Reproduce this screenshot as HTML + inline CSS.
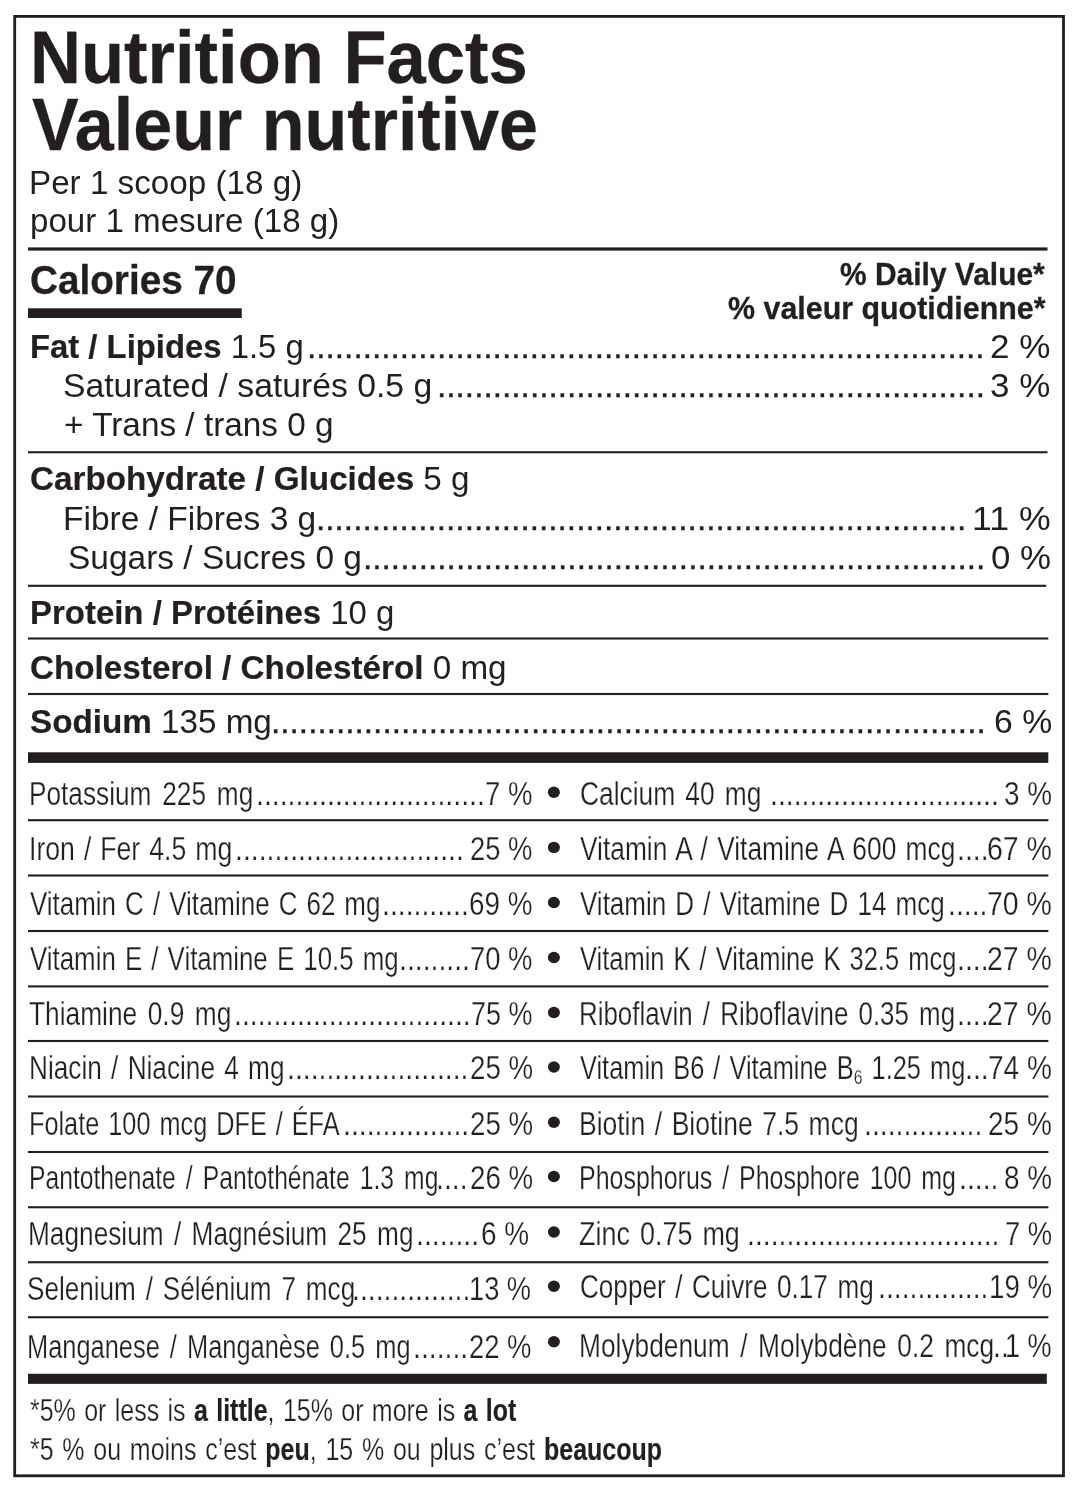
<!DOCTYPE html>
<html lang="en">
<head>
<meta charset="utf-8">
<title>Nutrition Facts / Valeur nutritive</title>
<style>
html,body{margin:0;padding:0;background:#fff;}
body{width:1080px;height:1500px;position:relative;overflow:hidden;
  font-family:"Liberation Sans",sans-serif;color:#231f20;}
#label{position:absolute;left:0;top:0;width:1080px;height:1500px;will-change:transform;}
.t{position:absolute;white-space:nowrap;line-height:1;transform-origin:0 0;font-weight:400;}
.t b{font-weight:700;}
.c{-webkit-text-stroke:0.25px #fff;}
.t b{-webkit-text-stroke:0.2px #231f20;}
.h,.h b{-webkit-text-stroke:0.3px #231f20;}
.d{-webkit-text-stroke:0.4px #231f20;}
svg.rules{position:absolute;left:0;top:0;}
</style>
</head>
<body>
<div id="label">
<svg class="rules" width="1080" height="1500" viewBox="0 0 1080 1500" fill="#231f20">
<rect x="14.7" y="16.4" width="1048.8" height="1459.4" fill="none" stroke="#231f20" stroke-width="2.8"/>
<rect x="28.0" y="247.4" width="1019.5" height="3.2"/>
<rect x="28.0" y="308.3" width="213.75" height="9.7"/>
<rect x="28.0" y="451.20" width="1019.5" height="2.1"/>
<rect x="28.0" y="584.75" width="1018.2" height="2.1"/>
<rect x="28.0" y="637.45" width="1020.3" height="2.1"/>
<rect x="28.0" y="692.95" width="1020.3" height="2.1"/>
<rect x="28.0" y="819.15" width="1020.4" height="2.1"/>
<rect x="28.0" y="874.45" width="1020.4" height="2.1"/>
<rect x="28.0" y="929.95" width="1020.4" height="2.1"/>
<rect x="28.0" y="985.35" width="1020.4" height="2.1"/>
<rect x="28.0" y="1039.95" width="1020.4" height="2.1"/>
<rect x="28.0" y="1095.45" width="1020.4" height="2.1"/>
<rect x="28.0" y="1150.95" width="1020.4" height="2.1"/>
<rect x="28.0" y="1206.20" width="1020.4" height="2.1"/>
<rect x="28.0" y="1261.20" width="1020.4" height="2.1"/>
<rect x="28.0" y="1316.20" width="1020.4" height="2.1"/>
<rect x="28.0" y="752.3" width="1020.3" height="10.6"/>
<rect x="28.0" y="1373.75" width="1018.8" height="10.1"/>
<ellipse cx="553.9" cy="792.3" rx="6.0" ry="5.7"/>
<ellipse cx="553.9" cy="847.4" rx="6.0" ry="5.7"/>
<ellipse cx="553.9" cy="902.5" rx="6.0" ry="5.7"/>
<ellipse cx="553.9" cy="957.5" rx="6.0" ry="5.7"/>
<ellipse cx="553.9" cy="1012.5" rx="6.0" ry="5.7"/>
<ellipse cx="553.9" cy="1067.0" rx="6.0" ry="5.7"/>
<ellipse cx="553.9" cy="1122.2" rx="6.0" ry="5.7"/>
<ellipse cx="553.9" cy="1176.5" rx="6.0" ry="5.7"/>
<ellipse cx="553.9" cy="1232.0" rx="6.0" ry="5.7"/>
<ellipse cx="553.9" cy="1286.25" rx="6.0" ry="5.7"/>
<ellipse cx="553.9" cy="1341.75" rx="6.0" ry="5.7"/>
</svg>
<div class="t h" style="left:30.26px;top:21.00px;font-size:74.49px;transform:scaleX(0.9471)"><b>Nutrition Facts</b></div>
<div class="t h" style="left:31.84px;top:88.00px;font-size:74.49px;transform:scaleX(0.9404)"><b>Valeur nutritive</b></div>
<div class="t" style="left:29.27px;top:165.00px;font-size:34.04px;transform:scaleX(0.9759)">Per 1 scoop (18 g)</div>
<div class="t" style="left:29.81px;top:203.00px;font-size:34.04px;transform:scaleX(0.9731)">pour 1 mesure (18 g)</div>
<div class="t h" style="left:30.15px;top:259.00px;font-size:41.43px;transform:scaleX(0.9341)"><b>Calories 70</b></div>
<div class="t h" style="left:840.47px;top:259.00px;font-size:31.25px;transform:scaleX(0.9584)"><b>% Daily Value*</b></div>
<div class="t h" style="left:728.21px;top:293.00px;font-size:31.25px;transform:scaleX(0.9727)"><b>% valeur quotidienne*</b></div>
<div class="t" style="left:29.78px;top:329.00px;font-size:34.04px;transform:scaleX(0.9646)"><b>Fat / Lipides</b> 1.5 g</div>
<div class="t" style="left:62.54px;top:368.00px;font-size:34.04px;transform:scaleX(0.9906)">Saturated / saturés 0.5 g</div>
<div class="t" style="left:63.87px;top:407.00px;font-size:34.04px;transform:scaleX(0.9796)">+ Trans / trans 0 g</div>
<div class="t" style="left:30.11px;top:461.00px;font-size:34.04px;transform:scaleX(0.9765)"><b>Carbohydrate / Glucides</b> 5 g</div>
<div class="t" style="left:62.75px;top:501.00px;font-size:34.04px;transform:scaleX(0.9846)">Fibre / Fibres 3 g</div>
<div class="t" style="left:68.25px;top:540.00px;font-size:34.04px;transform:scaleX(0.9834)">Sugars / Sucres 0 g</div>
<div class="t" style="left:29.78px;top:595.00px;font-size:34.04px;transform:scaleX(0.9680)"><b>Protein / Protéines</b> 10 g</div>
<div class="t" style="left:30.11px;top:650.00px;font-size:34.04px;transform:scaleX(0.9768)"><b>Cholesterol / Cholestérol</b> 0 mg</div>
<div class="t" style="left:29.70px;top:704.00px;font-size:34.04px;transform:scaleX(0.9762)"><b>Sodium</b> 135 mg</div>
<div class="t c" style="left:30.45px;top:1394.00px;font-size:32.19px;word-spacing:1.82px;transform:scaleX(0.7767)">*5% or less is <b>a little</b>, 15% or more is <b>a lot</b></div>
<div class="t c" style="left:30.46px;top:1433.00px;font-size:32.19px;word-spacing:2.36px;transform:scaleX(0.7759)">*5 % ou moins c’est <b>peu</b>, 15 % ou plus c’est <b>beaucoup</b></div>
<div class="t d" style="left:307.42px;top:329.00px;font-size:34.04px;transform:scaleX(0.9816)">.........................................................................</div>
<div class="t" style="left:990.08px;top:329.00px;font-size:34.04px;transform:scaleX(1.0301)">2 %</div>
<div class="t d" style="left:436.92px;top:368.00px;font-size:34.04px;transform:scaleX(0.9823)">...........................................................</div>
<div class="t" style="left:990.43px;top:368.00px;font-size:34.04px;transform:scaleX(1.0275)">3 %</div>
<div class="t d" style="left:316.42px;top:501.00px;font-size:34.04px;transform:scaleX(0.9826)">......................................................................</div>
<div class="t" style="left:972.28px;top:501.00px;font-size:34.04px;transform:scaleX(1.0473)">11 %</div>
<div class="t d" style="left:363.17px;top:540.00px;font-size:34.04px;transform:scaleX(0.9825)">...................................................................</div>
<div class="t" style="left:990.61px;top:540.00px;font-size:34.04px;transform:scaleX(1.0244)">0 %</div>
<div class="t d" style="left:270.92px;top:704.00px;font-size:34.04px;transform:scaleX(0.9817)">.............................................................................</div>
<div class="t" style="left:993.75px;top:704.00px;font-size:34.04px;transform:scaleX(0.9914)">6 %</div>
<div class="t c" style="left:29.10px;top:777.00px;font-size:33.62px;word-spacing:4.52px;transform:scaleX(0.7804)">Potassium 225 mg</div>
<div class="t c" style="left:256.06px;top:777.00px;font-size:33.62px;transform:scaleX(0.8450)">.............................</div>
<div class="t c" style="left:485.29px;top:777.00px;font-size:33.62px;transform:scaleX(0.8196)">7 %</div>
<div class="t c" style="left:28.52px;top:832.00px;font-size:33.62px;word-spacing:2.01px;transform:scaleX(0.7925)">Iron / Fer 4.5 mg</div>
<div class="t c" style="left:235.06px;top:832.00px;font-size:33.62px;transform:scaleX(0.8450)">.............................</div>
<div class="t c" style="left:470.32px;top:832.00px;font-size:33.62px;transform:scaleX(0.8142)">25 %</div>
<div class="t c" style="left:29.72px;top:887.00px;font-size:33.62px;word-spacing:2.41px;transform:scaleX(0.7717)">Vitamin C / Vitamine C 62 mg</div>
<div class="t c" style="left:382.02px;top:887.00px;font-size:33.62px;transform:scaleX(0.8450)">...........</div>
<div class="t c" style="left:469.27px;top:887.00px;font-size:33.62px;transform:scaleX(0.8282)">69 %</div>
<div class="t c" style="left:29.72px;top:942.00px;font-size:33.62px;word-spacing:2.54px;transform:scaleX(0.7694)">Vitamin E / Vitamine E 10.5 mg</div>
<div class="t c" style="left:398.86px;top:942.00px;font-size:33.62px;transform:scaleX(0.8450)">.........</div>
<div class="t c" style="left:470.30px;top:942.00px;font-size:33.62px;transform:scaleX(0.8145)">70 %</div>
<div class="t c" style="left:29.41px;top:997.00px;font-size:33.62px;word-spacing:4.09px;transform:scaleX(0.7828)">Thiamine 0.9 mg</div>
<div class="t c" style="left:233.94px;top:997.00px;font-size:33.62px;transform:scaleX(0.8450)">..............................</div>
<div class="t c" style="left:471.32px;top:997.00px;font-size:33.62px;transform:scaleX(0.8009)">75 %</div>
<div class="t c" style="left:28.86px;top:1051.00px;font-size:33.62px;word-spacing:2.58px;transform:scaleX(0.7793)">Niacin / Niacine 4 mg</div>
<div class="t c" style="left:287.38px;top:1051.00px;font-size:33.62px;transform:scaleX(0.8450)">.......................</div>
<div class="t c" style="left:469.61px;top:1051.00px;font-size:33.62px;transform:scaleX(0.8237)">25 %</div>
<div class="t c" style="left:28.93px;top:1107.00px;font-size:33.62px;word-spacing:2.62px;transform:scaleX(0.7522)">Folate 100 mcg DFE / ÉFA</div>
<div class="t c" style="left:342.71px;top:1107.00px;font-size:33.62px;transform:scaleX(0.8450)">................</div>
<div class="t c" style="left:469.61px;top:1107.00px;font-size:33.62px;transform:scaleX(0.8237)">25 %</div>
<div class="t c" style="left:28.98px;top:1161.00px;font-size:33.62px;word-spacing:4.42px;transform:scaleX(0.7340)">Pantothenate / Pantothénate 1.3 mg</div>
<div class="t c" style="left:436.35px;top:1161.00px;font-size:33.62px;transform:scaleX(0.8450)">....</div>
<div class="t c" style="left:469.61px;top:1161.00px;font-size:33.62px;transform:scaleX(0.8237)">26 %</div>
<div class="t c" style="left:27.85px;top:1217.00px;font-size:33.62px;word-spacing:3.91px;transform:scaleX(0.7806)">Magnesium / Magnésium 25 mg</div>
<div class="t c" style="left:415.88px;top:1217.00px;font-size:33.62px;transform:scaleX(0.8450)">........</div>
<div class="t c" style="left:481.26px;top:1217.00px;font-size:33.62px;transform:scaleX(0.8306)">6 %</div>
<div class="t c" style="left:26.88px;top:1272.00px;font-size:33.62px;word-spacing:3.35px;transform:scaleX(0.7767)">Selenium / Sélénium 7 mcg</div>
<div class="t c" style="left:351.54px;top:1272.00px;font-size:33.62px;transform:scaleX(0.8450)">...............</div>
<div class="t c" style="left:468.92px;top:1272.00px;font-size:33.62px;transform:scaleX(0.8103)">13 %</div>
<div class="t c" style="left:27.42px;top:1330.00px;font-size:33.62px;word-spacing:4.02px;transform:scaleX(0.7558)">Manganese / Manganèse 0.5 mg</div>
<div class="t c" style="left:412.69px;top:1330.00px;font-size:33.62px;transform:scaleX(0.8450)">.......</div>
<div class="t c" style="left:468.62px;top:1330.00px;font-size:33.62px;transform:scaleX(0.8142)">22 %</div>
<div class="t c" style="left:579.65px;top:777.00px;font-size:33.62px;word-spacing:3.64px;transform:scaleX(0.7837)">Calcium 40 mg</div>
<div class="t c" style="left:769.76px;top:777.00px;font-size:33.62px;transform:scaleX(0.8450)">.............................</div>
<div class="t c" style="left:1003.74px;top:777.00px;font-size:33.62px;transform:scaleX(0.8292)">3 %</div>
<div class="t c" style="left:579.72px;top:832.00px;font-size:33.62px;word-spacing:2.54px;transform:scaleX(0.7832)">Vitamin A / Vitamine A 600 mcg</div>
<div class="t c" style="left:957.05px;top:832.00px;font-size:33.62px;transform:scaleX(0.8450)">....</div>
<div class="t c" style="left:986.83px;top:832.00px;font-size:33.62px;transform:scaleX(0.8472)">67 %</div>
<div class="t c" style="left:579.72px;top:887.00px;font-size:33.62px;word-spacing:2.50px;transform:scaleX(0.7735)">Vitamin D / Vitamine D 14 mcg</div>
<div class="t c" style="left:948.24px;top:887.00px;font-size:33.62px;transform:scaleX(0.8450)">.....</div>
<div class="t c" style="left:986.84px;top:887.00px;font-size:33.62px;transform:scaleX(0.8471)">70 %</div>
<div class="t c" style="left:579.73px;top:942.00px;font-size:33.62px;word-spacing:2.63px;transform:scaleX(0.7579)">Vitamin K / Vitamine K 32.5 mcg</div>
<div class="t c" style="left:957.05px;top:942.00px;font-size:33.62px;transform:scaleX(0.8450)">....</div>
<div class="t c" style="left:986.87px;top:942.00px;font-size:33.62px;transform:scaleX(0.8467)">27 %</div>
<div class="t c" style="left:578.88px;top:997.00px;font-size:33.62px;word-spacing:3.87px;transform:scaleX(0.7704)">Riboflavin / Riboflavine 0.35 mg</div>
<div class="t c" style="left:957.05px;top:997.00px;font-size:33.62px;transform:scaleX(0.8450)">....</div>
<div class="t c" style="left:986.87px;top:997.00px;font-size:33.62px;transform:scaleX(0.8467)">27 %</div>
<div class="t c" style="left:579.73px;top:1051.00px;font-size:33.62px;word-spacing:2.71px;transform:scaleX(0.7547)">Vitamin B6 / Vitamine B<span style="font-size:62%;position:relative;top:.22em">6</span> 1.25 mg</div>
<div class="t c" style="left:964.88px;top:1051.00px;font-size:33.62px;transform:scaleX(0.8450)">...</div>
<div class="t c" style="left:987.87px;top:1051.00px;font-size:33.62px;transform:scaleX(0.8335)">74 %</div>
<div class="t c" style="left:578.83px;top:1107.00px;font-size:33.62px;word-spacing:2.80px;transform:scaleX(0.7878)">Biotin / Biotine 7.5 mcg</div>
<div class="t c" style="left:864.24px;top:1107.00px;font-size:33.62px;transform:scaleX(0.8450)">...............</div>
<div class="t c" style="left:987.89px;top:1107.00px;font-size:33.62px;transform:scaleX(0.8332)">25 %</div>
<div class="t c" style="left:578.96px;top:1161.00px;font-size:33.62px;word-spacing:4.02px;transform:scaleX(0.7429)">Phosphorus / Phosphore 100 mg</div>
<div class="t c" style="left:959.24px;top:1161.00px;font-size:33.62px;transform:scaleX(0.8450)">.....</div>
<div class="t c" style="left:1003.74px;top:1161.00px;font-size:33.62px;transform:scaleX(0.8292)">8 %</div>
<div class="t c" style="left:579.14px;top:1217.00px;font-size:33.62px;word-spacing:3.16px;transform:scaleX(0.8019)">Zinc 0.75 mg</div>
<div class="t c" style="left:746.80px;top:1217.00px;font-size:33.62px;transform:scaleX(0.8450)">................................</div>
<div class="t c" style="left:1004.60px;top:1217.00px;font-size:33.62px;transform:scaleX(0.8141)">7 %</div>
<div class="t c" style="left:579.66px;top:1270.00px;font-size:33.62px;word-spacing:2.99px;transform:scaleX(0.7767)">Copper / Cuivre 0.17 mg</div>
<div class="t c" style="left:878.06px;top:1270.00px;font-size:33.62px;transform:scaleX(0.8450)">..............</div>
<div class="t c" style="left:988.58px;top:1270.00px;font-size:33.62px;transform:scaleX(0.8240)">19 %</div>
<div class="t c" style="left:578.85px;top:1329.00px;font-size:33.62px;word-spacing:4.20px;transform:scaleX(0.7825)">Molybdenum / Molybdène 0.2 mcg</div>
<div class="t c" style="left:993.20px;top:1329.00px;font-size:33.62px;transform:scaleX(0.8450)">..</div>
<div class="t c" style="left:1004.63px;top:1329.00px;font-size:33.62px;transform:scaleX(0.8047)">1 %</div>
</div>
</body>
</html>
